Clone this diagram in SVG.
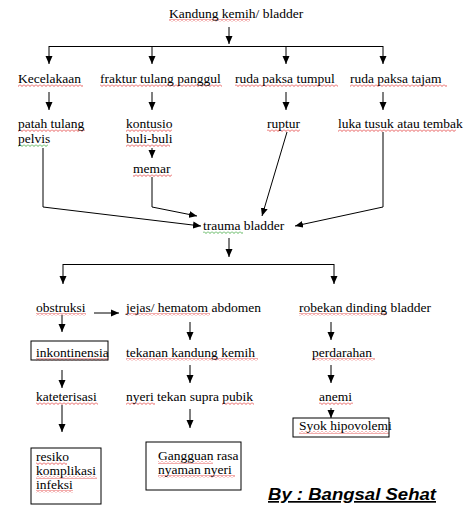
<svg xmlns="http://www.w3.org/2000/svg" width="474" height="519" viewBox="0 0 474 519">
<style>
text{font-family:"Liberation Serif","Times New Roman",serif;font-size:13.5px;fill:#000}
.c line,.c polyline{stroke:#000;stroke-width:1;fill:none}
.a{marker-end:url(#ah)}
.box{fill:none;stroke:#000;stroke-width:1}
.sr{fill:url(#wr)}
.sg{fill:url(#wg)}
.by{font-family:"Liberation Sans",Arial,sans-serif;font-weight:bold;font-style:italic;font-size:17px;text-decoration:underline}
</style>
<defs>
<marker id="ah" viewBox="0 0 8 8" refX="8" refY="4" markerWidth="8" markerHeight="8" markerUnits="userSpaceOnUse" orient="auto">
<path d="M0,0.5 L8,4 L0,7.5 Z" fill="#000"/>
</marker>
<pattern id="wr" width="4" height="3" patternUnits="userSpaceOnUse">
<path d="M0,0.5 L2,2.5 L4,0.5" stroke="#e03030" stroke-width="0.8" fill="none"/>
</pattern>
<pattern id="wg" width="4" height="3" patternUnits="userSpaceOnUse">
<path d="M0,0.5 L2,2.5 L4,0.5" stroke="#30a030" stroke-width="0.8" fill="none"/>
</pattern>
</defs>

<g id="connectors" class="c">
<line class="a" x1="229" y1="27" x2="229" y2="44"/>
<line x1="49" y1="46.5" x2="383" y2="46.5"/>
<line class="a" x1="49" y1="46" x2="49" y2="64"/>
<line class="a" x1="152" y1="46" x2="152" y2="64"/>
<line class="a" x1="286" y1="46" x2="286" y2="64"/>
<line class="a" x1="383" y1="46" x2="383" y2="64"/>
<line class="a" x1="49" y1="92" x2="49" y2="110"/>
<line class="a" x1="152" y1="92" x2="152" y2="110"/>
<line class="a" x1="286" y1="92" x2="286" y2="110"/>
<line class="a" x1="383" y1="92" x2="383" y2="110"/>
<line class="a" x1="152" y1="148" x2="152" y2="158"/>
<polyline class="a" points="43,148 43,207 201,226"/>
<polyline class="a" points="152,177 152,207 197,216"/>
<line class="a" x1="287" y1="132" x2="262" y2="216"/>
<polyline class="a" points="383,132 383,207 295,226"/>
<line class="a" x1="229" y1="238" x2="229" y2="257"/>
<line x1="63" y1="264.5" x2="334" y2="264.5"/>
<line class="a" x1="63" y1="264" x2="63" y2="284"/>
<line class="a" x1="334" y1="264" x2="334" y2="284"/>
<line class="a" x1="94" y1="313" x2="119" y2="313"/>
<line class="a" x1="62" y1="315" x2="62" y2="332"/>
<line class="a" x1="190" y1="322" x2="190" y2="340"/>
<line class="a" x1="331" y1="322" x2="331" y2="340"/>
<line class="a" x1="62" y1="370" x2="62" y2="388"/>
<line class="a" x1="190" y1="365" x2="190" y2="383"/>
<line class="a" x1="331" y1="365" x2="331" y2="383"/>
<line class="a" x1="62" y1="405" x2="62" y2="432"/>
<line class="a" x1="190" y1="409" x2="190" y2="428"/>
<line class="a" x1="331" y1="408" x2="331" y2="418"/>
</g>

<g id="squiggles">
<rect class="sr" x="169" y="19" width="81" height="3"/>
<rect class="sr" x="18" y="84" width="65" height="3"/>
<rect class="sr" x="100" y="84" width="122" height="3"/>
<rect class="sr" x="235" y="84" width="103" height="3"/>
<rect class="sr" x="350" y="84" width="97" height="3"/>
<rect class="sr" x="18" y="129" width="67" height="3"/>
<rect class="sg" x="18" y="144" width="30" height="3"/>
<rect class="sr" x="126" y="129" width="46" height="3"/>
<rect class="sr" x="126" y="144" width="44" height="3"/>
<rect class="sr" x="133" y="174" width="39" height="3"/>
<rect class="sr" x="267" y="129" width="33" height="3"/>
<rect class="sr" x="338" y="129" width="118" height="3"/>
<rect class="sg" x="203" y="231" width="40" height="3"/>
<rect class="sr" x="36" y="313" width="50" height="3"/>
<rect class="sr" x="126" y="313" width="84" height="3"/>
<rect class="sr" x="299" y="313" width="88" height="3"/>
<rect class="sr" x="36" y="358" width="72" height="3"/>
<rect class="sr" x="126" y="358" width="132" height="3"/>
<rect class="sr" x="312" y="358" width="63" height="3"/>
<rect class="sr" x="36" y="402" width="62" height="3"/>
<rect class="sr" x="126" y="402" width="29" height="3"/>
<rect class="sr" x="222" y="402" width="32" height="3"/>
<rect class="sr" x="319" y="402" width="34" height="3"/>
<rect class="sr" x="299" y="431" width="90" height="3"/>
<rect class="sr" x="36" y="462" width="31" height="3"/>
<rect class="sr" x="36" y="476" width="61" height="3"/>
<rect class="sr" x="36" y="490" width="37" height="3"/>
<rect class="sr" x="158" y="461" width="55" height="3"/>
<rect class="sr" x="158" y="475" width="77" height="3"/>
</g>

<g id="n-title"><text x="169" y="18">Kandung kemih/ bladder</text></g>
<g id="n-kecelakaan"><text x="18" y="83">Kecelakaan</text></g>
<g id="n-fraktur"><text x="100" y="83">fraktur tulang panggul</text></g>
<g id="n-tumpul"><text x="235" y="83">ruda paksa tumpul</text></g>
<g id="n-tajam"><text x="350" y="83">ruda paksa tajam</text></g>
<g id="n-patah"><text x="18" y="128">patah tulang</text><text x="18" y="143">pelvis</text></g>
<g id="n-kontusio"><text x="126" y="128">kontusio</text><text x="126" y="143">buli-buli</text></g>
<g id="n-memar"><text x="133" y="173">memar</text></g>
<g id="n-ruptur"><text x="267" y="128">ruptur</text></g>
<g id="n-luka"><text x="338" y="128">luka tusuk atau tembak</text></g>
<g id="n-trauma"><text x="203" y="230">trauma bladder</text></g>
<g id="n-obstruksi"><text x="36" y="312">obstruksi</text></g>
<g id="n-jejas"><text x="126" y="312">jejas/ hematom abdomen</text></g>
<g id="n-robekan"><text x="299" y="312">robekan dinding bladder</text></g>
<g id="n-inkontinensia"><rect class="box" x="31" y="341" width="77" height="19"/><text x="36" y="357">inkontinensia</text></g>
<g id="n-tekanan"><text x="126" y="357">tekanan kandung kemih</text></g>
<g id="n-perdarahan"><text x="312" y="357">perdarahan</text></g>
<g id="n-kateterisasi"><text x="36" y="401">kateterisasi</text></g>
<g id="n-nyeri"><text x="126" y="401">nyeri tekan supra pubik</text></g>
<g id="n-anemi"><text x="319" y="401">anemi</text></g>
<g id="n-syok"><rect class="box" x="293" y="418" width="96" height="19"/><text x="299" y="430">Syok hipovolemi</text></g>
<g id="n-resiko"><rect class="box" x="31" y="448" width="70" height="56"/><text x="36" y="461">resiko</text><text x="36" y="475">komplikasi</text><text x="36" y="489">infeksi</text></g>
<g id="n-gangguan"><rect class="box" x="146" y="442" width="95" height="48"/><text x="158" y="460">Gangguan rasa</text><text x="158" y="474">nyaman nyeri</text></g>
<g id="credit"><text class="by" x="268" y="500" textLength="168" lengthAdjust="spacingAndGlyphs">By : Bangsal Sehat</text></g>
</svg>
